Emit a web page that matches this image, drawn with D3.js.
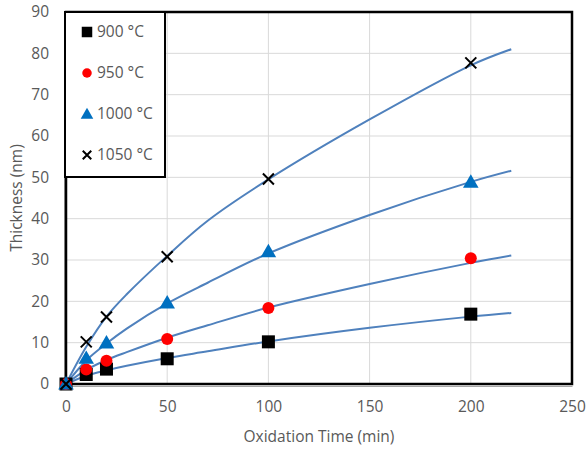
<!DOCTYPE html>
<html>
<head>
<meta charset="utf-8">
<script src="https://cdn.jsdelivr.net/npm/d3@7"></script>
<style>
  body { margin: 0; background: #fff; }
  text { font-family: "Open Sans", sans-serif; fill: #595959; }
</style>
</head>
<body>
<div id="chart"></div>
<script>
// measured points
const times = [0, 10, 20, 50, 100, 200];
const series = ["900 °C", "950 °C", "1000 °C", "1050 °C"];
const t900 = [0, 2.3, 3.6, 6.1, 10.2, 16.9];
const t950 = [0, 3.5, 5.6, 10.9, 18.4, 30.4];
const t1000 = [0, 6.2, 9.9, 19.6, 32.0, 48.8];
const t1050 = [0, 10.2, 16.2, 30.8, 49.6, 77.7];

// fitted curves
const fitTimes = [0, 10, 20, 30, 50, 70, 100, 150, 200, 220];
const fit900 = [0, 2.0, 3.3, 4.4, 6.3, 7.9, 10.3, 13.6, 16.3, 17.2];
const fit950 = [0, 3.4, 5.8, 7.7, 11.2, 14.2, 18.5, 24.2, 29.3, 31.1];
const fit1000 = [0, 5.7, 9.8, 13.4, 19.5, 24.5, 31.6, 40.9, 48.9, 51.6];
const fit1050 = [0, 9.0, 16.3, 21.7, 31.0, 39.5, 49.5, 64.0, 77.1, 81.0];

const xTicks = [0, 50, 100, 150, 200, 250];
const yTicks = [0, 10, 20, 30, 40, 50, 60, 70, 80, 90];

const width = 586, height = 449;
const svg = d3.select("#chart").append("svg")
    .attr("width", width)
    .attr("height", height);

const x = d3.scaleLinear().domain([0, 250]).range([66, 572]);
const y = d3.scaleLinear().domain([0, 90]).range([384, 12]);

// gridlines
svg.append("g").selectAll("line").data(yTicks).enter().append("line")
    .attr("x1", x(0)).attr("x2", x(250))
    .attr("y1", d => y(d)).attr("y2", d => y(d))
    .attr("stroke", "#d9d9d9").attr("stroke-width", 1);
svg.append("g").selectAll("line").data(xTicks).enter().append("line")
    .attr("x1", d => x(d)).attr("x2", d => x(d))
    .attr("y1", y(0)).attr("y2", y(90))
    .attr("stroke", "#d9d9d9").attr("stroke-width", 1);

// axes (labels only)
const xAxis = svg.append("g")
    .attr("transform", "translate(0," + y(0) + ")")
    .call(d3.axisBottom(x).tickValues(xTicks).tickSize(0).tickPadding(17));
const yAxis = svg.append("g")
    .attr("transform", "translate(" + x(0) + ",0)")
    .call(d3.axisLeft(y).tickValues(yTicks).tickSize(0).tickPadding(17));
[xAxis, yAxis].forEach(a => {
    a.select(".domain").attr("stroke", "#a6a6a6").attr("stroke-width", 1);
    a.selectAll("text")
        .style("font-family", "'Open Sans', sans-serif")
        .style("font-size", "15.5px")
        .attr("fill", "#595959");
});
yAxis.select(".domain").attr("transform", "translate(-2,0)");
xAxis.select(".domain").attr("transform", "translate(0,2)");

// plot border
svg.append("rect")
    .attr("x", x(0)).attr("y", y(90))
    .attr("width", x(250) - x(0)).attr("height", y(0) - y(90))
    .attr("fill", "none").attr("stroke", "#000").attr("stroke-width", 2.5);

// curves
const line = d3.line()
    .x((d, i) => x(fitTimes[i]))
    .y(d => y(d))
    .curve(d3.curveCatmullRom.alpha(0.5));
[fit900, fit950, fit1000, fit1050].forEach(f => {
    svg.append("path")
        .attr("d", line(f))
        .attr("fill", "none")
        .attr("stroke", "#4f81bd")
        .attr("stroke-width", 2);
});

// marker drawing
function marker(g, kind, cx, cy, s) {
    if (kind === 0) {
        g.append("rect").attr("x", cx - s / 2).attr("y", cy - s / 2)
            .attr("width", s).attr("height", s).attr("fill", "#000");
    } else if (kind === 1) {
        g.append("circle").attr("cx", cx).attr("cy", cy).attr("r", s / 2 - 0.5)
            .attr("fill", "#ff0000");
    } else if (kind === 2) {
        g.append("path")
            .attr("d", d3.symbol().type(d3.symbolTriangle).size(s * s * 0.62)())
            .attr("transform", "translate(" + cx + "," + (cy + 1) + ")")
            .attr("fill", "#0070c0");
    } else {
        const h = s / 2 - 1;
        g.append("path")
            .attr("d", "M" + (cx - h) + "," + (cy - h) + "L" + (cx + h) + "," + (cy + h) +
                "M" + (cx - h) + "," + (cy + h) + "L" + (cx + h) + "," + (cy - h))
            .attr("stroke", "#000").attr("stroke-width", 2).attr("fill", "none");
    }
}

const pts = svg.append("g");
[t900, t950, t1000, t1050].forEach((vals, k) => {
    vals.forEach((v, i) => marker(pts, k, x(times[i]), y(v), 13));
});

// legend
const legend = svg.append("g");
legend.append("rect")
    .attr("x", 65).attr("y", 12).attr("width", 100).attr("height", 165)
    .attr("fill", "#fff").attr("stroke", "#000").attr("stroke-width", 2);
series.forEach((s, k) => {
    const ly = 32 + k * 41;
    marker(legend, k, 87, ly, 10.5);
    legend.append("text")
        .attr("x", 97).attr("y", ly)
        .attr("dy", "0.35em")
        .style("font-size", "15.5px")
        .text(s);
});

// axis titles
svg.append("text")
    .attr("x", x(125)).attr("y", 437)
    .attr("dy", "0.35em")
    .attr("text-anchor", "middle")
    .style("font-size", "15.5px")
    .text("Oxidation Time (min)");
svg.append("text")
    .attr("transform", "translate(17," + y(45) + ") rotate(-90)")
    .attr("dy", "0.35em")
    .attr("text-anchor", "middle")
    .style("font-size", "15.5px")
    .text("Thickness (nm)");
</script>
</body>
</html>
